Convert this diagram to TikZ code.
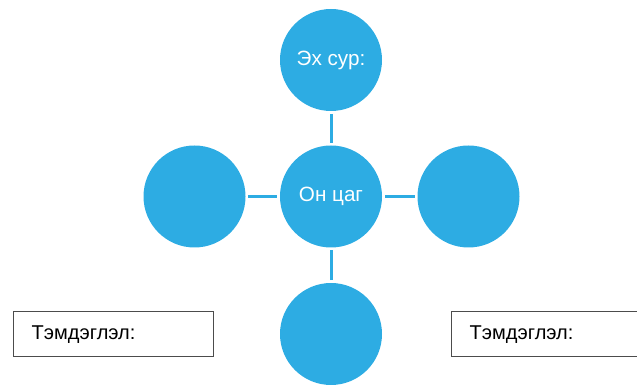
\documentclass[tikz,border=0pt]{standalone}
\usepackage{fontspec}
\setmainfont{Liberation Sans}
\usepackage{xcolor}
\usepackage{tikz}
\usetikzlibrary{calc}
\definecolor{skyblue}{RGB}{45,172,227}

\begin{document}
\begin{tikzpicture}[x=0.75pt, y=0.75pt]
 	  \tikzstyle{bubble}=[circle, fill=skyblue, inner sep=0pt, minimum size=76.5pt, text=white, font=\fontsize{15.5}{18}\selectfont]
 	  \tikzstyle{link}=[draw=skyblue, line width=2.25pt, shorten <=2pt, shorten >=2pt]
 	  \tikzstyle{notebox}=[draw=black!70, line width=0.75pt, minimum width=150pt, minimum height=33.75pt, inner xsep=14pt, text width=122pt, align=left, font=\fontsize{15}{18}\selectfont]
\useasboundingbox (0,0) rectangle (637,385);
    \node[bubble] (hub) at (331,188.5) {Он цаг};
    \node[bubble] (top) at (331,325) {Эх сур:};
\foreach \name/\x/\y in {left/194.5/188.5, right/468.5/188.5, bottom/331/51}{
    \node[bubble] (\name) at (\x,\y) {};
    \draw[link] (\name) -- (hub);
      }
    \draw[link] (top) -- (hub);
    %\draw[link] (left) -- (bottom);
    \node[notebox] (noteL) at (113,50.5) {Тэмдэглэл:};
    \node[notebox] (noteR) at (551,50.5) {Тэмдэглэл:};
   \end{tikzpicture}
\end{document}
